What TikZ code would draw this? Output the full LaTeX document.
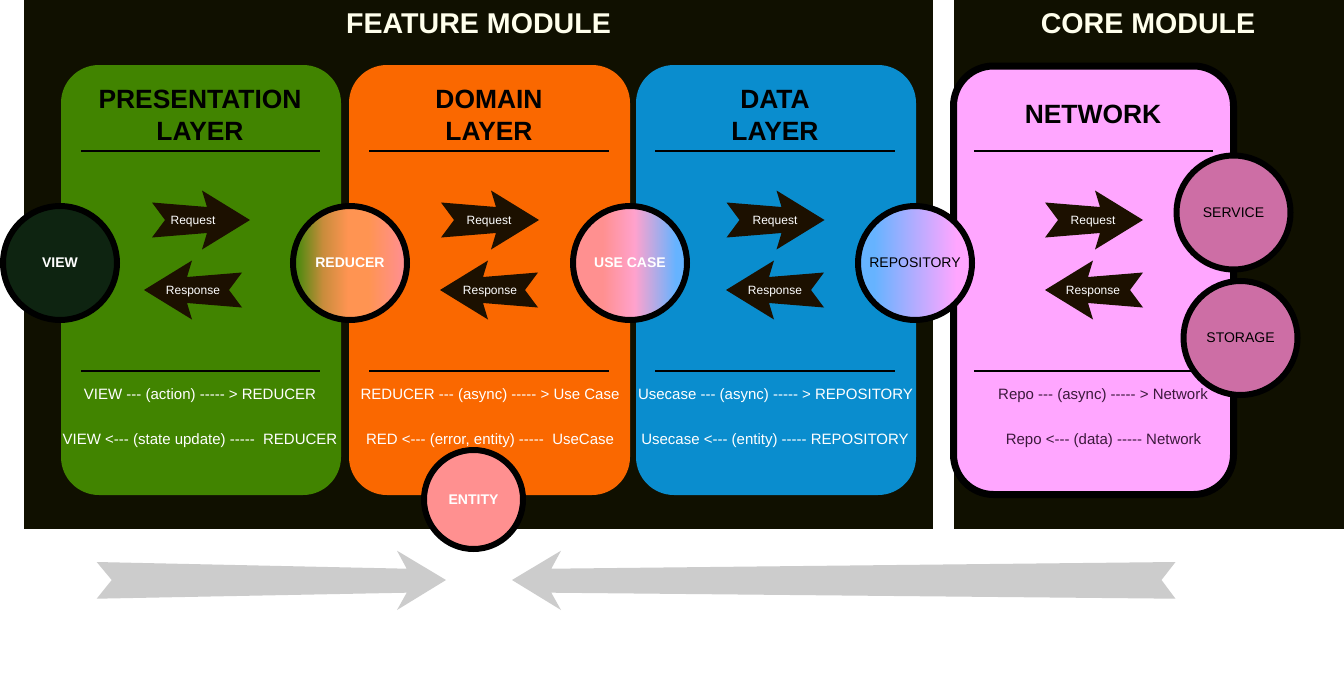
\documentclass[tikz,border=0pt]{standalone}
\usepackage{fontspec}
\setmainfont{Liberation Sans}[Ligatures=TeXOff]
\definecolor{bgdark}{RGB}{16,16,0}
\definecolor{greenc}{RGB}{65,132,0}
\definecolor{orangec}{RGB}{250,104,0}
\definecolor{bluec}{RGB}{10,141,206}
\definecolor{pinkc}{RGB}{255,166,255}
\definecolor{arrowc}{RGB}{28,16,0}
\definecolor{titlec}{RGB}{255,255,236}
\definecolor{viewc}{RGB}{14,36,17}
\definecolor{entityc}{RGB}{255,144,144}
\definecolor{corec}{RGB}{205,110,165}
\definecolor{netText}{RGB}{60,25,60}
\definecolor{grayc}{RGB}{204,204,204}
\definecolor{redL}{RGB}{80,138,16}
\definecolor{redQ}{RGB}{200,140,60}
\definecolor{redM}{RGB}{255,148,82}
\definecolor{redR}{RGB}{255,143,143}
\definecolor{ucL}{RGB}{255,144,144}
\definecolor{ucM}{RGB}{255,162,205}
\definecolor{ucR}{RGB}{102,179,255}
\definecolor{rpL}{RGB}{102,179,255}
\definecolor{rpM}{RGB}{180,172,255}
\definecolor{rpR}{RGB}{255,166,255}
\pgfdeclarehorizontalshading{redshade}{100bp}{color(0bp)=(redL); color(27bp)=(redL); color(38bp)=(redQ); color(49bp)=(redM); color(58bp)=(redM); color(73bp)=(redR); color(100bp)=(redR)}
\pgfdeclarehorizontalshading{ucshade}{100bp}{color(0bp)=(ucL); color(25bp)=(ucL); color(38bp)=(ucL); color(52bp)=(ucM); color(70bp)=(ucR); color(100bp)=(ucR)}
\pgfdeclarehorizontalshading{rpshade}{100bp}{color(0bp)=(rpL); color(25bp)=(rpL); color(32bp)=(rpL); color(50bp)=(rpM); color(68bp)=(rpR); color(100bp)=(rpR)}
\begin{document}
\begin{tikzpicture}[x=1pt,y=-1pt,
  modbg/.style={fill=bgdark},
  layerbox/.style={rounded corners=38pt},
  ruleline/.style={line width=2pt, draw=black},
  arrowlabel/.style={font=\fontsize{12}{14}\selectfont, text=white, anchor=base, inner sep=0pt},
  flowtext/.style={font=\fontsize{15}{18}\selectfont, text=white, anchor=base, inner sep=0pt},
  layertitle/.style={font=\bfseries\fontsize{26.4}{32}\selectfont, align=center, inner sep=0pt},
  modtitle/.style={font=\bfseries\fontsize{28.6}{34}\selectfont, text=titlec, anchor=base, inner sep=0pt},
  comp/.style={circle, draw=black, line width=6pt, minimum size=114pt, inner sep=0pt, font=\fontsize{14}{16}\selectfont},
  compbold/.style={comp, font=\bfseries\fontsize{14}{16}\selectfont},
  reqshape/.pic={\fill[arrowc] (-49,-17.5) -- (-36,0) -- (-49,17.5) -- (6,13) -- (1,29.5) -- (49,0) -- (1,-29.5) -- (6,-13) -- cycle;}
]
\useasboundingbox (0,0) rectangle (1344,680);
\fill[white] (0,0) rectangle (1344,680);
% module backgrounds
\fill[modbg] (24,0) rectangle (933,529);
\fill[modbg] (954,0) rectangle (1344,529);
\node[modtitle] (feattitle) at (478.5,33) {FEATURE MODULE};
\node[modtitle] (coretitle) at (1148,33) {CORE MODULE};
% layer boxes
\fill[greenc, layerbox] (61,65) rectangle (341,495);
\fill[orangec, layerbox] (349,65) rectangle (630,495);
\fill[bluec, layerbox] (636,65) rectangle (916,495);
\draw[line width=7pt, fill=pinkc, rounded corners=40pt] (953.5,66) rectangle (1233.5,494.5);
% titles
\node[layertitle] (ptitle) at (200,115) {PRESENTATION\\LAYER};
\node[layertitle] (dtitle) at (489,115) {DOMAIN\\LAYER};
\node[layertitle] (datatitle) at (775,115) {DATA\\LAYER};
\node[layertitle] (ntitle) at (1093,114) {NETWORK};
% rules
\draw[ruleline] (81,150.5) -- (320,150.5);
\draw[ruleline] (81,370.5) -- (320,370.5);
\draw[ruleline] (369,150.5) -- (609,150.5);
\draw[ruleline] (369,370.5) -- (609,370.5);
\draw[ruleline] (655,150.5) -- (895,150.5);
\draw[ruleline] (655,370.5) -- (895,370.5);
\draw[ruleline] (974,150.5) -- (1213,150.5);
\draw[ruleline] (974,371) -- (1213,371);
% block arrows
\pic at (201,220) {reqshape};
\pic[xscale=-1] at (193,290) {reqshape};
\pic at (490,220) {reqshape};
\pic[xscale=-1] at (489,290) {reqshape};
\pic at (775.5,220) {reqshape};
\pic[xscale=-1] at (775,290) {reqshape};
\pic at (1094,220) {reqshape};
\pic[xscale=-1] at (1094,290) {reqshape};
\node[arrowlabel] (preq) at (193,224.5) {Request};
\node[arrowlabel] (pres) at (193,294.5) {Response};
\node[arrowlabel] (dreq) at (489,224.5) {Request};
\node[arrowlabel] (dres) at (490,294.5) {Response};
\node[arrowlabel] (areq) at (775,224.5) {Request};
\node[arrowlabel] (ares) at (775,294.5) {Response};
\node[arrowlabel] (nreq) at (1093,224.5) {Request};
\node[arrowlabel] (nres) at (1093,294.5) {Response};
% flow texts
\node[flowtext] (pf1) at (200,399.5) {VIEW --- (action) ----- > REDUCER};
\node[flowtext] (pf2) at (200,444.5) {VIEW <--- (state update) -----\ \ REDUCER};
\node[flowtext] (df1) at (490,399.5) {REDUCER --- (async) ----- > Use Case};
\node[flowtext] (df2) at (490,444.5) {RED <--- (error, entity) -----\ \ UseCase};
\node[flowtext] (af1) at (775.5,399.5) {Usecase --- (async) ----- > REPOSITORY};
\node[flowtext] (af2) at (775,444.5) {Usecase <--- (entity) ----- REPOSITORY};
\node[flowtext, text=netText] (nf1) at (1103,399.5) {Repo --- (async) ----- > Network};
\node[flowtext, text=netText] (nf2) at (1103.5,444.5) {Repo <--- (data) ----- Network};
% components
\node[compbold, fill=viewc, text=white] (view) at (60,263) {VIEW};
\node[compbold, shading=redshade, text=white] (reducer) at (350,263) {REDUCER};
\node[compbold, shading=ucshade, text=white] (usecase) at (630,263) {USE CASE};
\node[comp, shading=rpshade, text=black] (repo) at (915,263) {REPOSITORY};
\node[comp, fill=corec, text=black] (service) at (1233.5,212.5) {SERVICE};
\node[comp, fill=corec, text=black] (storage) at (1240.5,338) {STORAGE};
\node[compbold, fill=entityc, text=white, minimum size=99pt] (entity) at (473.5,499.5) {ENTITY};
% bottom gray arrows
\fill[grayc] (96.7,562) -- (406.7,568.7) -- (397,550.7) -- (446,580) -- (397,610) -- (406.7,592.7) -- (96.7,598.7) -- (111.7,580) -- cycle;
\fill[grayc] (512,580) -- (561,550.7) -- (551.3,568.7) -- (1175.5,562) -- (1161.5,580) -- (1175.5,598.7) -- (551.3,592.7) -- (561,610) -- cycle;
\end{tikzpicture}
\end{document}
